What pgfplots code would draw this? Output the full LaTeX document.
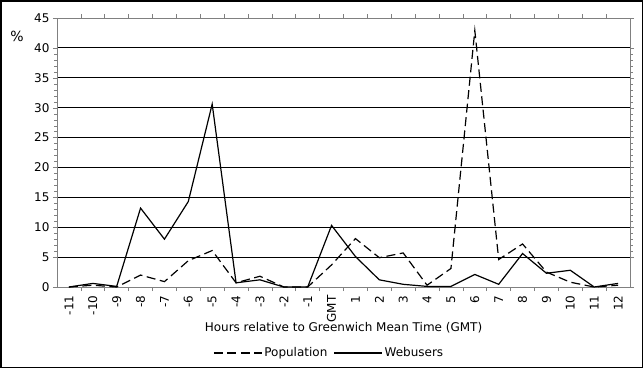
\documentclass[border=0pt]{standalone}
\usepackage{fontspec}
\setmainfont{DejaVu Sans}
\usepackage{pgfplots}
\pgfplotsset{compat=1.18}
\begin{document}
\begin{tikzpicture}[x=1pt,y=1pt]
\draw[black,line width=1.5pt] (0.75,0.75) rectangle (642.25,367.25);
\begin{axis}[
  at={(57pt,81pt)}, anchor=south west,
  scale only axis, width=573pt, height=269pt,
  xmin=-0.5, xmax=23.5, ymin=0, ymax=45,
  font=\fontsize{12}{14}\selectfont,
  /pgf/number format/assume math mode=true,
  xtick={0,...,23},
  xticklabels={-11,-10,-9,-8,-7,-6,-5,-4,-3,-2,-1,GMT,1,2,3,4,5,6,7,8,9,10,11,12},
  x tick label style={rotate=90, anchor=east, xshift=-1pt},
  minor xtick={0.5,1.5,...,22.5},
  ytick={5,10,...,40},
  extra y ticks={0,45},
  extra y tick style={grid=none},
  minor y tick num=4,
  tick align=outside,
  major tick length=4pt, minor tick length=2.5pt,
  x tick style={draw=none},
  minor x tick style={draw=gray, line width=0.6pt, /pgfplots/minor tick length=4pt},
  y tick style={gray},
  ymajorgrids, grid style={black, line width=1.2pt},
  axis line style={gray, line width=0.8pt},
  xlabel={Hours relative to Greenwich Mean Time (GMT)},
  xlabel style={at={(axis description cs:0.5,0)}, anchor=center, yshift=-41pt},
  legend columns=2,
  legend style={draw=none, fill=none, at={(0.475,-0.245)}, anchor=center, font=\fontsize{12}{14}\selectfont, /tikz/every even column/.append style={column sep=4pt}},
  legend image code/.code={\draw[#1] (0pt,0pt) -- (48pt,0pt);},
  clip=false,
]
\addplot[black, line width=1.2pt, dash pattern=on 9pt off 4.5pt] coordinates {
(0,0) (1,0.3) (2,0) (3,2.0) (4,0.9) (5,4.4) (6,6.1) (7,0.7) (8,1.8) (9,0) (10,0)
(11,3.7) (12,8.1) (13,4.9) (14,5.7) (15,0.3) (16,3.1) (17,42.9) (18,4.6) (19,7.2)
(20,2.5) (21,0.8) (22,0) (23,0.3)};
\addlegendentry{Population}
\addplot[black, line width=1.2pt] coordinates {
(0,0) (1,0.6) (2,0.1) (3,13.2) (4,8.0) (5,14.3) (6,30.6) (7,0.7) (8,1.2) (9,0) (10,0)
(11,10.3) (12,5.1) (13,1.2) (14,0.45) (15,0.1) (16,0.1) (17,2.1) (18,0.45) (19,5.6)
(20,2.3) (21,2.8) (22,0) (23,0.6)};
\addlegendentry{Webusers}
\end{axis}
\node[font=\fontsize{14}{16}\selectfont] at (17,332) {\%};
\end{tikzpicture}
\end{document}
